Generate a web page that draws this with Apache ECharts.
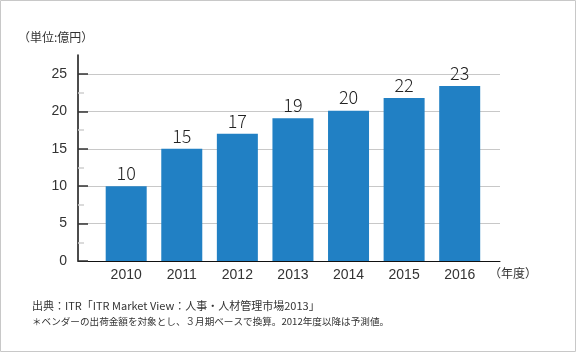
<!DOCTYPE html>
<html>
<head>
<meta charset="utf-8">
<script src="https://cdn.jsdelivr.net/npm/echarts@6/dist/echarts.min.js"></script>
<style>
html, body { margin: 0; padding: 0; background: #fff; }
#chart { width: 577px; height: 353px; }
</style>
</head>
<body>
<div id="chart"></div>
<script>
// 年度・市場規模（億円）
var years = [2010, 2011, 2012, 2013, 2014, 2015, 2016];
var values = [10, 15, 17, 19.1, 20.1, 21.8, 23.4];
var minorTicks = [2.5, 7.5, 12.5, 17.5, 22.5];

var unitText = '（単位:億円）';
var yearText = '（年度）';
var sourceText = '出典：ITR「ITR Market View：人事・人材管理市場2013」';
var noteText = '＊ベンダーの出荷金額を対象とし、３月期ベースで換算。2012年度以降は予測値。';

var font = '"Noto Sans CJK JP", "Noto Sans", sans-serif';
var numFont = '"Liberation Sans", "Noto Sans CJK JP", sans-serif';

var myChart = echarts.init(document.getElementById('chart'), null, { renderer: 'canvas' });

var barData = years.map(function (y, i) {
    return [y, values[i]];
});

myChart.setOption({
    animation: false,
    textStyle: { fontFamily: font },
    grid: [
        { left: 78, right: 77, top: 74, bottom: 92 },  // 本体
        { left: 78, right: 77, top: 55, bottom: 92 }   // 縦軸の線と補助目盛
    ],
    xAxis: [{
        type: 'value',
        gridIndex: 0,
        min: 2009.133,
        max: 2016.725,
        axisLine: { show: true, lineStyle: { color: '#111', width: 1 } },
        axisTick: { show: false },
        splitLine: { show: false },
        axisLabel: {
            customValues: years,
            color: '#333',
            fontFamily: numFont,
            fontSize: 14,
            margin: 7,
            formatter: function (v) { return String(v); }
        }
    }, {
        type: 'value',
        gridIndex: 1,
        min: 0,
        max: 1,
        show: false
    }],
    yAxis: [{
        // 目盛ラベルと横の補助線
        type: 'value',
        gridIndex: 0,
        position: 'left',
        z: 0,
        min: 0,
        max: 25,
        interval: 5,
        axisLine: { show: false },
        axisTick: { show: false },
        axisLabel: { color: '#333', fontFamily: numFont, fontSize: 14, margin: 11 },
        splitLine: { show: true, lineStyle: { color: '#c8c8c8', width: 1.2 } }
    }, {
        // 縦軸の線（上に少し伸びる）と補助目盛
        type: 'value',
        gridIndex: 1,
        position: 'left',
        z: 3,
        min: 0,
        max: 27.5,
        interval: 2.5,
        axisLine: { show: true, lineStyle: { color: '#111', width: 1.5 } },
        axisTick: {
            show: true, inside: true, length: 6,
            customValues: minorTicks,
            lineStyle: { color: '#d0d0d0', width: 1.5 }
        },
        axisLabel: { show: false },
        splitLine: { show: false }
    }, {
        // 主目盛
        type: 'value',
        gridIndex: 0,
        position: 'left',
        offset: 0,
        z: 4,
        min: 0,
        max: 25,
        interval: 5,
        axisLine: { show: false },
        axisTick: { show: true, inside: true, length: 10, lineStyle: { color: '#333', width: 1.5 } },
        axisLabel: { show: false },
        splitLine: { show: false }
    }],
    series: [{
        type: 'bar',
        xAxisIndex: 0,
        yAxisIndex: 0,
        barWidth: 41,
        data: barData,
        itemStyle: { color: '#2180c4' },
        label: {
            show: true,
            position: 'top',
            distance: 4,
            color: '#222',
            fontFamily: font,
            fontWeight: 300,
            fontSize: 18,
            formatter: function (p) { return Math.round(p.value[1]); }
        }
    }],
    graphic: [
        {
            type: 'rect',
            shape: { x: 0.5, y: 0.5, width: 575, height: 351 },
            style: { fill: 'none', stroke: '#c8c8c8', lineWidth: 1 },
            silent: true
        },
        {
            type: 'text', left: 18, top: 31,
            style: { text: unitText, font: '12px ' + font, fill: '#333' }
        },
        {
            type: 'text', left: 489, top: 267,
            style: { text: yearText, font: '12px ' + font, fill: '#333' }
        },
        {
            type: 'text', left: 32, top: 300,
            style: { text: sourceText, font: '11px ' + font, fill: '#333' }
        },
        {
            type: 'text', left: 32, top: 317,
            style: { text: noteText, font: '9.6px ' + font, fill: '#333' }
        }
    ]
});
</script>
</body>
</html>
